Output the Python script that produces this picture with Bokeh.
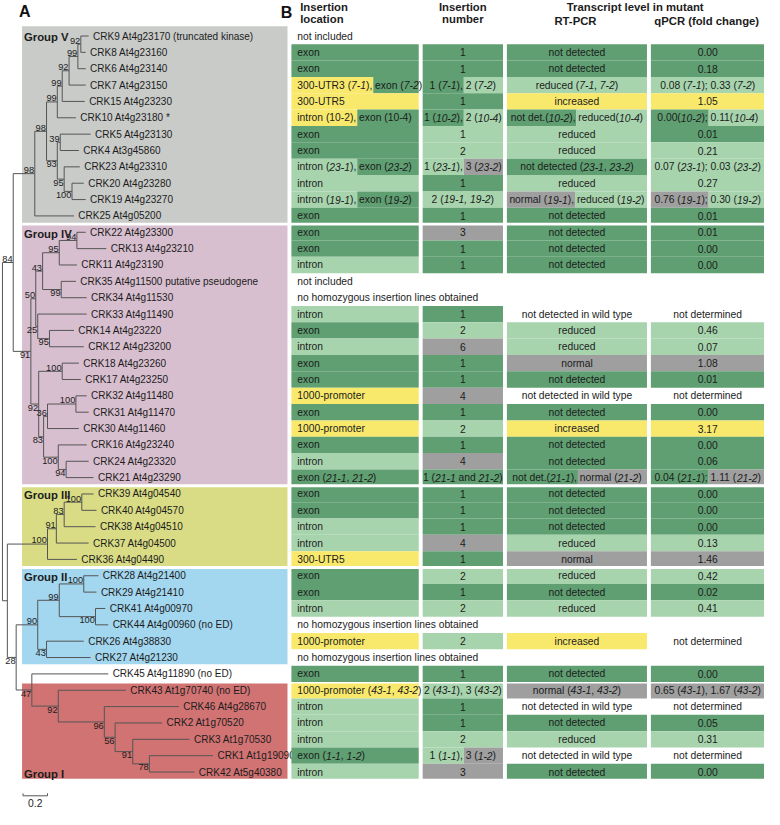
import re
from bokeh.plotting import figure
from bokeh.models import Range1d, ColumnDataSource
from bokeh.embed import file_html
from bokeh.resources import INLINE
from bokeh.core.properties import value

# ---------------- data ----------------
# phylogeny (branch lengths in substitutions/site, internal names = bootstrap)
TREE_G5 = ("(((((((CRK9:0.064,CRK8:0.04)92:0.024,CRK6:0.064)99:0.072,CRK7:0.136)92:0.056,"
           "CRK15:0.184)99:0.04,CRK10:0.152)99:0.088,((CRK5:0.248,CRK4:0.152)39:0.024,"
           "(CRK23:0.128,(CRK20:0.096,CRK19:0.112)100:0.064)95:0.056)93:0.088)98:0.096,"
           "CRK25:0.32)98:0.176")
TREE_G4 = ("(((((CRK22:0.072,CRK13:0.24)94:0.144,CRK11:0.144)95:0.136,(CRK35:0.12,"
           "CRK34:0.208)99:0.152)43:0.056,(CRK33:0.4,(CRK14:0.2,CRK12:0.28)95:0.096)25:0.016)50:0.04,"
           "((CRK18:0.136,CRK17:0.152)100:0.192,(((CRK32:0.088,CRK31:0.104)100:0.232,"
           "CRK30:0.256)36:0.032,(CRK16:0.232,(CRK24:0.184,CRK21:0.224)94:0.064)100:0.12)83:0.04)"
           "92:0.064)91:0.144")
TREE_G3 = ("((((CRK39:0.096,CRK40:0.12)100:0.144,CRK38:0.256)83:0.064,CRK37:0.264)91:0.072,"
           "CRK36:0.24)100:0.328")
TREE_G2 = ("(((CRK28:0.12,CRK29:0.104)100:0.2,(CRK41:0.08,CRK44:0.104)100:0.296)99:0.176,"
           "(CRK26:0.304,CRK27:0.36)43:0.072)90:0.176")
TREE_G1 = ("(CRK45:0.624,(CRK43:0.552,(CRK46:0.608,(CRK2:0.384,(CRK3:0.464,(CRK1:0.52,"
           "CRK42:0.368)78:0.136)91:0.144)56:0.088)96:0.376)92:0.216)47:0.128")
NEWICK = ("((" + TREE_G5 + "," + TREE_G4 + ")84:0.088,(" + TREE_G3 + ",(" + TREE_G2 + ","
          + TREE_G1 + ")28:0.072):0.04);")

leaf_labels = [
    "CRK9 At4g23170 (truncated kinase)", "CRK8 At4g23160", "CRK6 At4g23140", "CRK7 At4g23150",
    "CRK15 At4g23230", "CRK10 At4g23180 *", "CRK5 At4g23130", "CRK4 At3g45860",
    "CRK23 At4g23310", "CRK20 At4g23280", "CRK19 At4g23270", "CRK25 At4g05200",
    "CRK22 At4g23300", "CRK13 At4g23210", "CRK11 At4g23190", "CRK35 At4g11500 putative pseudogene",
    "CRK34 At4g11530", "CRK33 At4g11490", "CRK14 At4g23220", "CRK12 At4g23200",
    "CRK18 At4g23260", "CRK17 At4g23250", "CRK32 At4g11480", "CRK31 At4g11470",
    "CRK30 At4g11460", "CRK16 At4g23240", "CRK24 At4g23320", "CRK21 At4g23290",
    "CRK39 At4g04540", "CRK40 At4g04570", "CRK38 At4g04510", "CRK37 At4g04500",
    "CRK36 At4g04490", "CRK28 At4g21400", "CRK29 At4g21410", "CRK41 At4g00970",
    "CRK44 At4g00960 (no ED)", "CRK26 At4g38830", "CRK27 At4g21230", "CRK45 At4g11890 (no ED)",
    "CRK43 At1g70740 (no ED)", "CRK46 At4g28670", "CRK2 At1g70520", "CRK3 At1g70530",
    "CRK1 At1g19090", "CRK42 At5g40380"]

group_names = ["Group V", "Group IV", "Group III", "Group II", "Group I"]
group_rows = [(0, 11), (12, 27), (28, 32), (33, 38), (40, 45)]

# table: "|" splits differently coloured parts, _x_ marks italics
# colour codes: D dark green, L light green, Y yellow, G grey, W no fill, N full-width note
loc_text = ["not included", "exon", "exon", "300-UTR3 (_7-1_),|exon (_7-2_)", "300-UTR5",
            "intron (10-2),|exon (10-4)", "exon", "exon", "intron (_23-1_),|exon (_23-2_)", "intron",
            "intron (_19-1_),|exon (_19-2_)", "exon",
            "exon", "exon", "intron", "not included", "no homozygous insertion lines obtained", "intron",
            "exon", "intron", "exon", "exon", "1000-promoter", "exon", "1000-promoter", "exon", "intron",
            "exon (_21-1_, _21-2_)",
            "exon", "exon", "intron", "intron", "300-UTR5",
            "exon", "exon", "intron", "no homozygous insertion lines obtained", "1000-promoter",
            "no homozygous insertion lines obtained",
            "exon",
            "1000-promoter (_43-1_, _43-2_)", "intron", "intron", "intron", "exon (_1-1_, _1-2_)", "intron"]
loc_col = ["N", "D", "D", "Y|D", "Y", "Y|D", "D", "D", "L|D", "L", "L|D", "D",
           "D", "D", "L", "N", "N", "L", "D", "L", "D", "D", "Y", "D", "Y", "D", "L", "D",
           "D", "D", "L", "L", "Y",
           "D", "D", "L", "N", "Y", "N",
           "D",
           "Y", "L", "L", "L", "D", "L"]
num_text = ["", "1", "1", "1 (_7-1_),|2 (_7-2_)", "1", "1 (_10-2_),|2 (_10-4_)", "1", "2",
            "1 (_23-1_),|3 (_23-2_)", "1", "2 (_19-1, 19-2_)", "1",
            "3", "1", "1", "", "", "1", "2", "6", "1", "1", "4", "1", "2", "1", "4", "1 (_21-1_ and _21-2_)",
            "1", "1", "1", "4", "1",
            "2", "1", "2", "", "2", "",
            "1",
            "2 (_43-1_), 3 (_43-2_)", "1", "1", "2", "1 (_1-1_),|3 (_1-2_)", "3"]
num_col = ["", "D", "D", "D|L", "D", "D|L", "L", "L", "L|G", "D", "L", "D",
           "G", "D", "D", "", "", "D", "L", "G", "D", "D", "G", "D", "L", "D", "G", "D",
           "D", "D", "D", "G", "D",
           "L", "D", "L", "", "L", "",
           "D",
           "L", "D", "D", "L", "L|G", "G"]
rt_text = ["", "not detected", "not detected", "reduced (_7-1_, _7-2_)", "increased",
           "not det.(_10-2_),|reduced(_10-4_)", "reduced", "reduced", "not detected (_23-1_, _23-2_)",
           "reduced", "normal (_19-1_),|reduced (_19-2_)", "not detected",
           "not detected", "not detected", "not detected", "", "", "not detected in wild type", "reduced",
           "reduced", "normal", "not detected", "not detected in wild type", "not detected", "increased",
           "not detected", "not detected", "not det.(_21-1_),|normal (_21-2_)",
           "not detected", "not detected", "not detected", "reduced", "normal",
           "reduced", "not detected", "reduced", "", "increased", "",
           "not detected",
           "normal (_43-1_, _43-2_)", "not detected in wild type", "not detected", "reduced",
           "not detected in wild type", "not detected"]
rt_col = ["", "D", "D", "L", "Y", "D|L", "L", "L", "D", "L", "G|L", "D",
          "D", "D", "D", "", "", "W", "L", "L", "G", "D", "W", "D", "Y", "D", "D", "D|G",
          "D", "D", "D", "L", "G",
          "L", "D", "L", "", "Y", "",
          "D",
          "G", "W", "D", "L", "W", "D"]
q_text = ["", "0.00", "0.18", "0.08 (_7-1_); 0.33 (_7-2_)", "1.05", "0.00(_10-2_);|0.11(_10-4_)", "0.01",
          "0.21", "0.07 (_23-1_); 0.03 (_23-2_)", "0.27", "0.76 (_19-1_);|0.30 (_19-2_)", "0.01",
          "0.01", "0.00", "0.00", "", "", "not determined", "0.46", "0.07", "1.08", "0.01",
          "not determined", "0.00", "3.17", "0.00", "0.06", "0.04 (_21-1_);|1.11 (_21-2_)",
          "0.00", "0.00", "0.00", "0.13", "1.46",
          "0.42", "0.02", "0.41", "", "not determined", "",
          "0.00",
          "0.65 (_43-1_), 1.67 (_43-2_)", "not determined", "0.05", "0.31", "not determined", "0.00"]
q_col = ["", "D", "D", "L", "Y", "D|L", "D", "L", "L", "L", "G|L", "D",
         "D", "D", "D", "", "", "W", "L", "L", "G", "D", "W", "D", "Y", "D", "D", "D|G",
         "D", "D", "D", "L", "G",
         "L", "D", "L", "", "W", "",
         "D",
         "G", "W", "D", "L", "W", "D"]

scale_bar_value = 0.2

# ---------------- style / layout ----------------
FONT = "Liberation Sans"
TXT = "#1c1c1c"
CELL = {"D": "#5f9f71", "L": "#a7d4ad", "Y": "#f8e96c", "G": "#9f9f9f"}
GROUP_BG = ["#c9cbc9", "#d8bfcf", "#d9dc85", "#a3d6ef", "#d27373"]
W_PX, H_PX = 764, 809
X0, X1, Y0R, Y1R = 0, 780, -1, 826
SX = W_PX / (X1 - X0)
ROW0, ROWS = 35.3, 16.72
ROOT_X, PX_PER_UNIT = 2.0, 125.0
COLS = [(297, 427, "left", 303), (431, 513, "center", 472),
        (517, 660, "center", 588.5), (664, 780, "center", 722)]
TABLE_FS = 10.3

EM = {' ': .278, '(': .333, ')': .333, ',': .278, ';': .278, '.': .278, '-': .333, '*': .389,
      'a': .556, 'b': .556, 'c': .5, 'd': .556, 'e': .556, 'f': .278, 'g': .556, 'h': .556,
      'i': .222, 'j': .222, 'k': .5, 'l': .222, 'm': .833, 'n': .556, 'o': .556, 'p': .556,
      'q': .556, 'r': .333, 's': .5, 't': .278, 'u': .556, 'v': .5, 'w': .722, 'x': .5,
      'y': .5, 'z': .5, 'A': .667, 'C': .722, 'D': .722, 'E': .667, 'G': .778, 'I': .278,
      'P': .667, 'R': .722, 'T': .611, 'U': .722}


def text_w(s, fs):
    return sum(EM.get(ch, .556) for ch in s) * fs / SX


def row_y(i):
    return ROW0 + i * ROWS


# ---------------- parse tree ----------------
def parse_newick(s):
    pos = 0

    def node():
        nonlocal pos
        kids = []
        if s[pos] == '(':
            pos += 1
            kids.append(node())
            while s[pos] == ',':
                pos += 1
                kids.append(node())
            assert s[pos] == ')'
            pos += 1
        name = re.match(r'[^:,();]*', s[pos:]).group(0)
        pos += len(name)
        ln = 0.0
        if pos < len(s) and s[pos] == ':':
            pos += 1
            num = re.match(r'[0-9.eE+-]+', s[pos:]).group(0)
            pos += len(num)
            ln = float(num)
        return {"name": name, "len": ln, "kids": kids}

    t = node()
    assert s[pos] == ';'
    return t


tree = parse_newick(NEWICK)
leaves = []


def layout(n, px):
    n["x"] = px + n["len"] * PX_PER_UNIT
    if not n["kids"]:
        n["y"] = row_y(len(leaves))
        leaves.append(n)
    else:
        for k in n["kids"]:
            layout(k, n["x"])
        n["y"] = (n["kids"][0]["y"] + n["kids"][-1]["y"]) / 2


layout(tree, ROOT_X)
assert len(leaves) == len(leaf_labels)

seg = dict(x0=[], y0=[], x1=[], y1=[])
boot = dict(x=[], y=[], t=[])
boot_b = dict(x=[], y=[], t=[])


def walk(n, parent=None, idx=0):
    if parent is not None:
        seg["x0"].append(parent["x"]); seg["y0"].append(n["y"])
        seg["x1"].append(n["x"]); seg["y1"].append(n["y"])
    if n["kids"]:
        seg["x0"].append(n["x"]); seg["y0"].append(n["kids"][0]["y"])
        seg["x1"].append(n["x"]); seg["y1"].append(n["kids"][-1]["y"])
        if parent is not None and n["name"]:
            d = boot if idx == 0 else boot_b
            d["x"].append(n["x"] - 0.6)
            d["y"].append(n["y"] - 0.6 if idx == 0 else n["y"] + 0.6)
            d["t"].append(n["name"])
        for j, k in enumerate(n["kids"]):
            walk(k, n, j)


walk(tree)

# ---------------- figure ----------------
p = figure(width=W_PX, height=H_PX, x_range=Range1d(X0, X1), y_range=Range1d(Y1R, Y0R),
           output_backend="svg", toolbar_location=None, min_border=0,
           x_axis_type=None, y_axis_type=None)
p.outline_line_color = None
p.background_fill_color = "white"
p.border_fill_color = "white"

# group boxes
gb = dict(l=[], r=[], t=[], b=[], c=[])
for gi, (a, b) in enumerate(group_rows):
    top = row_y(a) - ROWS / 2 + 1.5 - (3 if a == 0 else 0)
    gb["l"].append(22); gb["r"].append(293)
    gb["t"].append(top); gb["b"].append(row_y(b) + ROWS / 2 - 1.5)
    gb["c"].append(GROUP_BG[gi])
p.quad(left="l", right="r", top="t", bottom="b", fill_color="c", line_color=None,
       source=ColumnDataSource(gb))

# group labels
gl = dict(x=[], y=[], t=[])
for gi, (a, b) in enumerate(group_rows):
    r = b if gi == len(group_rows) - 1 else a
    gl["x"].append(24); gl["y"].append(row_y(r) + 1.5); gl["t"].append(group_names[gi])
p.text(x="x", y="y", text="t", source=ColumnDataSource(gl), text_font=value(FONT),
       text_font_size=value("11.3px"), text_font_style="bold", text_color=TXT,
       text_baseline="middle", text_align="left")

# tree
p.segment(x0="x0", y0="y0", x1="x1", y1="y1", source=ColumnDataSource(seg),
          line_color="#555555", line_width=1)
p.text(x="x", y="y", text="t", source=ColumnDataSource(boot), text_font=value(FONT),
       text_font_size=value("9.3px"), text_color=TXT, text_align="right", text_baseline="bottom")
p.text(x="x", y="y", text="t", source=ColumnDataSource(boot_b), text_font=value(FONT),
       text_font_size=value("9.3px"), text_color=TXT, text_align="right", text_baseline="top")
lf = dict(x=[n["x"] + 4.5 for n in leaves], y=[n["y"] for n in leaves], t=leaf_labels)
p.text(x="x", y="y", text="t", source=ColumnDataSource(lf), text_font=value(FONT),
       text_font_size=value("10px"), text_color=TXT, text_align="left", text_baseline="middle")

# scale bar
sb_x0, sb_y = 23, 812
sb_x1 = sb_x0 + scale_bar_value * PX_PER_UNIT
p.segment(x0=[sb_x0, sb_x0, sb_x1], y0=[sb_y, sb_y, sb_y], x1=[sb_x1, sb_x0, sb_x1],
          y1=[sb_y, sb_y - 2.5, sb_y - 2.5], line_color="#555555", line_width=1)
p.text(x=[(sb_x0 + sb_x1) / 2], y=[sb_y + 3], text=[str(scale_bar_value)], text_font=value(FONT),
       text_font_size=value("10.3px"), text_color=TXT, text_align="center", text_baseline="top")

# table
group_first = {a for a, b in group_rows}
group_last = {b for a, b in group_rows}
cells = dict(l=[], r=[], t=[], b=[], c=[])
runs_n = dict(x=[], y=[], t=[])
runs_i = dict(x=[], y=[], t=[])


def split_runs(s):
    out = []
    for part in re.split(r'(_[^_]*_)', s):
        if not part:
            continue
        if len(part) > 1 and part[0] == '_' and part[-1] == '_':
            out.append((part[1:-1], True))
        else:
            out.append((part, False))
    return out


def draw_cell(i, ci, text, colcode):
    if not text:
        return
    left, right, align, tx = COLS[ci]
    y = row_y(i)
    yt, yb = y - ROWS / 2, y + ROWS / 2
    if i in group_first and i > 0:
        yt += 1.5
    if i in group_last:
        yb -= 1.5
    segs = text.split("|")
    codes = colcode.split("|")
    seg_runs = []
    for k, sgm in enumerate(segs):
        rr = split_runs(sgm)
        if k < len(segs) - 1:
            rr.append((" ", False))
        seg_runs.append(rr)
    widths = [sum(text_w(t, TABLE_FS) for t, _ in rr) for rr in seg_runs]
    total = sum(widths)
    start = tx if align == "left" else tx - total / 2
    # backgrounds
    cur = start
    bounds = []
    for k in range(len(segs) - 1):
        cur += widths[k]
        bounds.append(cur - text_w(" ", TABLE_FS) + 1.0)
    edges = [left] + bounds + [right]
    for k, cc in enumerate(codes):
        if cc in CELL:
            cells["l"].append(edges[k]); cells["r"].append(edges[k + 1])
            cells["t"].append(yt); cells["b"].append(yb); cells["c"].append(CELL[cc])
    # text runs (leading blanks are skipped, since SVG text drops them)
    x = start
    for rr in seg_runs:
        for t, it in rr:
            lead = len(t) - len(t.lstrip(" "))
            x += text_w(" " * lead, TABLE_FS)
            body = t.lstrip(" ")
            if body.strip():
                d = runs_i if it else runs_n
                d["x"].append(x); d["y"].append(y); d["t"].append(body)
            x += text_w(body, TABLE_FS)


for i in range(len(leaf_labels)):
    if loc_col[i] == "N":
        runs_n["x"].append(COLS[0][3]); runs_n["y"].append(row_y(i)); runs_n["t"].append(loc_text[i])
        continue
    draw_cell(i, 0, loc_text[i], loc_col[i])
    draw_cell(i, 1, num_text[i], num_col[i])
    draw_cell(i, 2, rt_text[i], rt_col[i])
    draw_cell(i, 3, q_text[i], q_col[i])

p.quad(left="l", right="r", top="t", bottom="b", fill_color="c", line_color=None,
       source=ColumnDataSource(cells))
p.text(x="x", y="y", text="t", source=ColumnDataSource(runs_n), text_font=value(FONT),
       text_font_size=value(f"{TABLE_FS}px"), text_color=TXT, text_align="left",
       text_baseline="middle")
p.text(x="x", y="y", text="t", source=ColumnDataSource(runs_i), text_font=value(FONT),
       text_font_size=value(f"{TABLE_FS}px"), text_font_style="italic", text_color=TXT,
       text_align="left", text_baseline="middle")

# headers
hdr = dict(x=[306, 306, 472, 472, 648, 587, 721],
           y=[6, 18, 6, 18, 6, 20, 20],
           t=["Insertion", "location", "Insertion", "number", "Transcript level in mutant",
              "RT-PCR", "qPCR (fold change)"],
           a=["left", "left", "center", "center", "center", "center", "center"])
p.text(x="x", y="y", text="t", text_align="a", source=ColumnDataSource(hdr), text_font=value(FONT),
       text_font_size=value("11.3px"), text_font_style="bold", text_color=TXT,
       text_baseline="middle")
p.text(x=[19, 286], y=[10, 11], text=["A", "B"], text_font=value(FONT),
       text_font_size=value("16px"), text_font_style="bold", text_color="#111111",
       text_align="left", text_baseline="middle")

open("out.html", "w").write(file_html(p, INLINE))
